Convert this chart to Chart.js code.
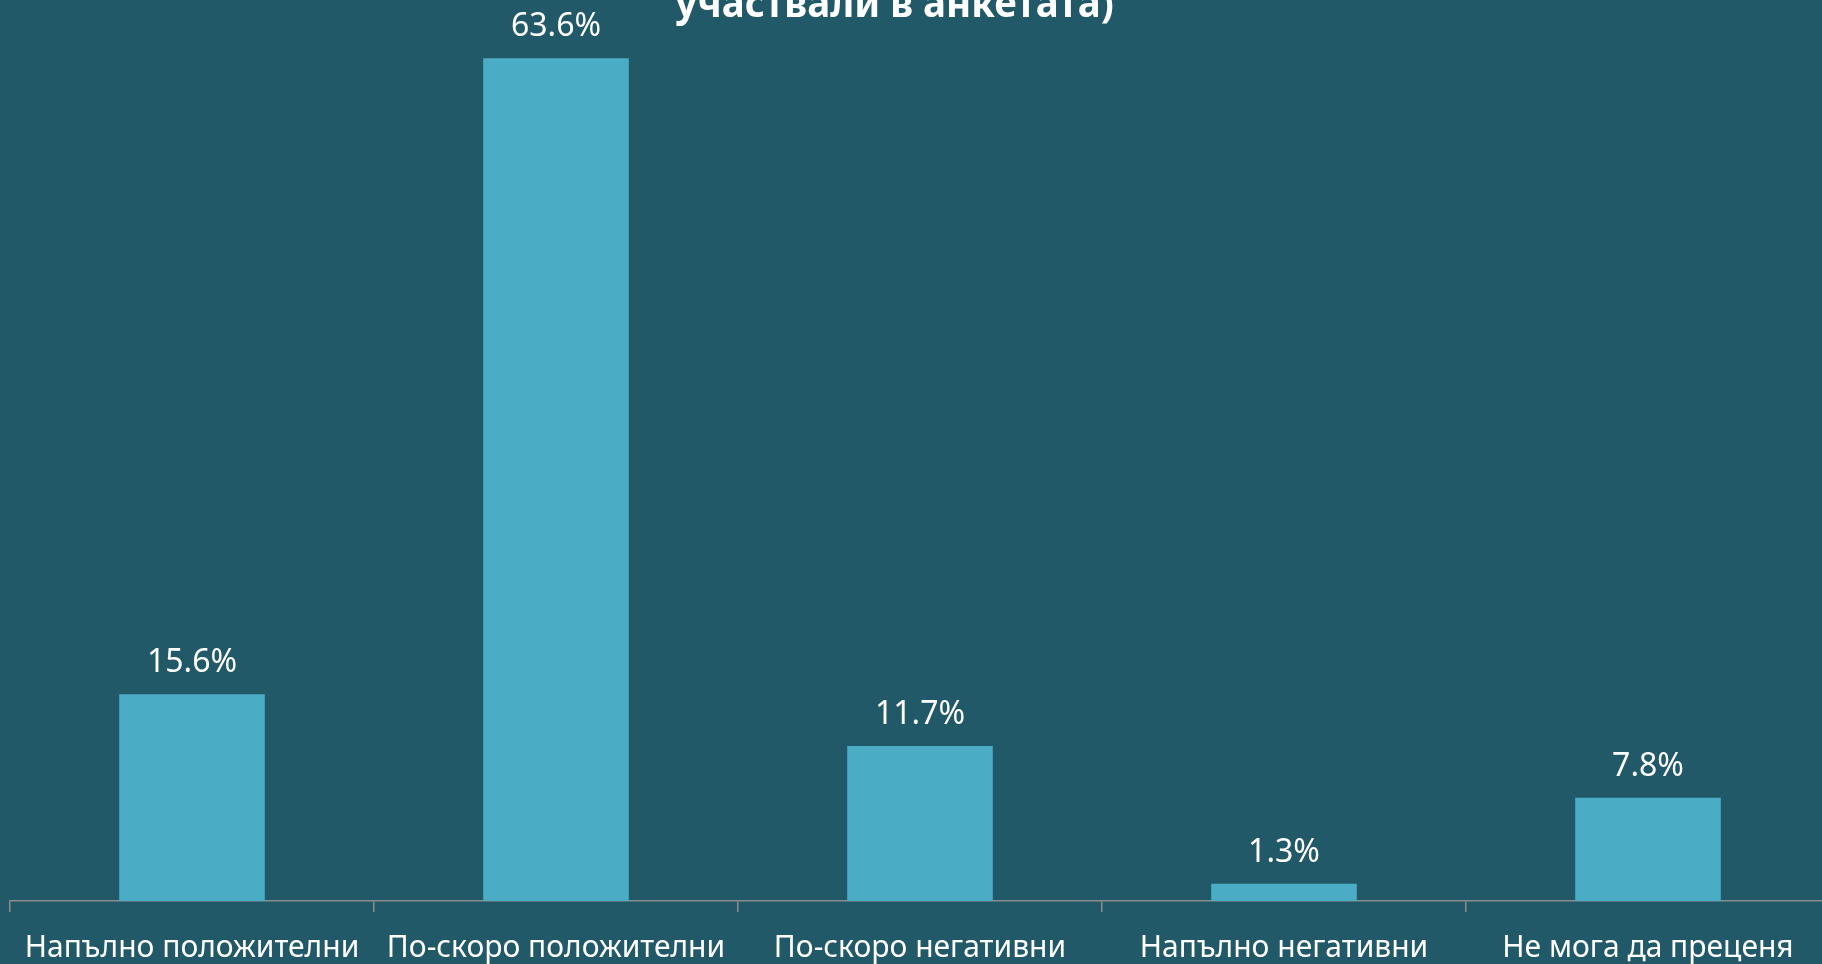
<!DOCTYPE html>
<html lang="bg">
<head>
    <meta charset="UTF-8">
    <title>Оценки</title>
    <script src="https://cdn.jsdelivr.net/npm/chart.js"></script>
    <style>
        html, body {
            margin: 0;
            padding: 0;
            background-color: #215968;
            overflow: hidden;
            width: 1822px;
            height: 964px;
        }
        #wrap {
            position: absolute;
            left: 0;
            top: -58px; /* the first title line sits above the visible area */
            width: 1830px;
            height: 1042px;
        }
    </style>
</head>
<body>
    <div id="wrap"><canvas id="chart"></canvas></div>

    <script>
        const categories = ['Напълно положителни', 'По-скоро положителни', 'По-скоро негативни', 'Напълно негативни', 'Не мога да преценя'];
        const values = [15.6, 63.6, 11.7, 1.3, 7.8];
        const titleText = 'участвали в анкетата)';

        const fontFamily = '"Noto Sans", "Open Sans", sans-serif';

        // value labels above each bar, plus a small nudge of the title to the left
        const valueLabels = {
            id: 'valueLabels',
            afterLayout(chart) {
                if (chart.titleBlock) chart.titleBlock.right -= 51;
            },
            afterDatasetsDraw(chart) {
                const ctx = chart.ctx;
                const meta = chart.getDatasetMeta(0);
                ctx.save();
                ctx.fillStyle = '#ffffff';
                ctx.font = '32px ' + fontFamily;
                ctx.textAlign = 'center';
                ctx.textBaseline = 'alphabetic';
                meta.data.forEach((bar, i) => {
                    ctx.fillText(values[i].toFixed(1) + '%', bar.x, bar.y - 22);
                });
                ctx.restore();
            }
        };

        new Chart(document.getElementById('chart'), {
            type: 'bar',
            data: {
                labels: categories,
                datasets: [{
                    data: values,
                    backgroundColor: '#4BACC6',
                    categoryPercentage: 1,
                    barPercentage: 0.4
                }]
            },
            options: {
                responsive: true,
                maintainAspectRatio: false,
                animation: false,
                layout: { padding: { left: 10, right: 0, top: 0, bottom: 0 } },
                plugins: {
                    legend: { display: false },
                    tooltip: { enabled: false },
                    title: {
                        display: true,
                        text: titleText,
                        color: '#ffffff',
                        font: { family: fontFamily, size: 38.5, weight: 'bold' },
                        padding: { top: 41, bottom: 0 }
                    }
                },
                scales: {
                    x: {
                        grid: {
                            drawOnChartArea: false,
                            drawTicks: true,
                            tickLength: 11,
                            color: '#8c8c8c',
                            lineWidth: 1.5
                        },
                        border: { display: true, color: '#8c8c8c', width: 1.5 },
                        ticks: {
                            color: '#ffffff',
                            font: { family: fontFamily, size: 30 },
                            padding: 18,
                            maxRotation: 0,
                            autoSkip: false
                        }
                    },
                    y: {
                        display: false,
                        min: 0,
                        max: 65.8
                    }
                }
            },
            plugins: [valueLabels]
        });
    </script>
</body>
</html>
